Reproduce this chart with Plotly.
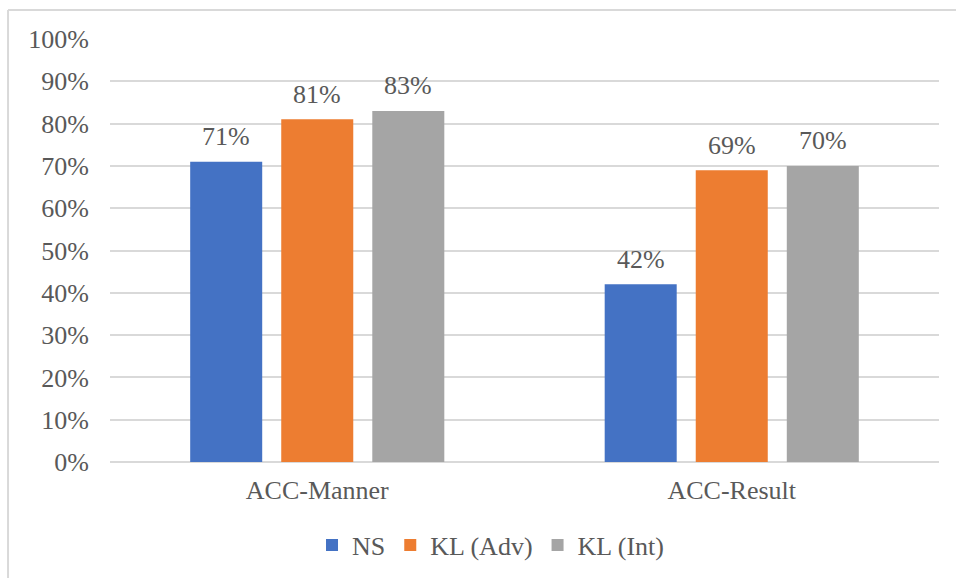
import plotly.graph_objects as go

categories = ["ACC-Manner", "ACC-Result"]
series_names = ["NS", "KL (Adv)", "KL (Int)"]
ns_values = [0.71, 0.42]
kl_adv_values = [0.81, 0.69]
kl_int_values = [0.83, 0.70]
colors = ["#4472C4", "#ED7D31", "#A5A5A5"]
y_ticks = [i / 10 for i in range(11)]

FONT = "'Times New Roman', 'Liberation Serif', serif"
TEXT_COLOR = "#595959"
GRID = "#D9D9D9"

W, H = 956, 578
M = dict(l=110, r=17, t=39, b=116)
BARGAP = 0.341
GROUPGAP = 0.209

# pixel width of one bar slot inside a category group
plot_w = W - M["l"] - M["r"]
slot_px = plot_w / len(categories) * (1 - BARGAP) / len(series_names)

fig = go.Figure()
annotations = []
all_values = [ns_values, kl_adv_values, kl_int_values]
for i, (name, vals, col) in enumerate(zip(series_names, all_values, colors)):
    fig.add_trace(go.Bar(
        name=name,
        x=categories,
        y=vals,
        marker=dict(color=col, line=dict(width=0)),
        cliponaxis=False,
    ))
    offset = (i - (len(series_names) - 1) / 2) * slot_px
    for cat, v in zip(categories, vals):
        annotations.append(dict(
            x=cat, y=v, xref="x", yref="y",
            text=f"{round(v * 100)}%",
            showarrow=False,
            xshift=offset, yshift=25,
            yanchor="middle",
            font=dict(family=FONT, size=26, color=TEXT_COLOR),
        ))

fig.update_layout(
    width=W,
    height=H,
    margin=dict(**M, autoexpand=False),
    paper_bgcolor="white",
    plot_bgcolor="white",
    barmode="group",
    bargap=BARGAP,
    bargroupgap=GROUPGAP,
    font=dict(family=FONT, size=26, color=TEXT_COLOR),
    showlegend=True,
    legend=dict(
        orientation="h",
        x=0.459,
        xanchor="center",
        yref="container",
        y=0.0163,
        yanchor="bottom",
        font=dict(family=FONT, size=26, color=TEXT_COLOR),
        itemwidth=30,
        tracegroupgap=0,
    ),
    xaxis=dict(
        showgrid=False,
        showline=False,
        ticks="",
        ticklabelstandoff=10,
        tickfont=dict(family=FONT, size=26, color=TEXT_COLOR),
    ),
    yaxis=dict(
        range=[0, 1],
        tickvals=y_ticks,
        tickformat=".0%",
        showgrid=True,
        gridcolor=GRID,
        gridwidth=2,
        zeroline=True,
        zerolinecolor=GRID,
        zerolinewidth=2,
        ticks="",
        ticklabelstandoff=20,
        tickfont=dict(family=FONT, size=26, color=TEXT_COLOR),
    ),
    annotations=annotations,
    shapes=[
        dict(type="line", xref="paper", yref="paper",
             x0=-0.123, x1=1.1, y0=1.0686, y1=1.0686,
             line=dict(color=GRID, width=2)),
        dict(type="line", xref="paper", yref="paper",
             x0=-0.123, x1=-0.123, y0=1.0686, y1=-0.4,
             line=dict(color=GRID, width=2)),
    ],
)

fig.write_html("out.html")
